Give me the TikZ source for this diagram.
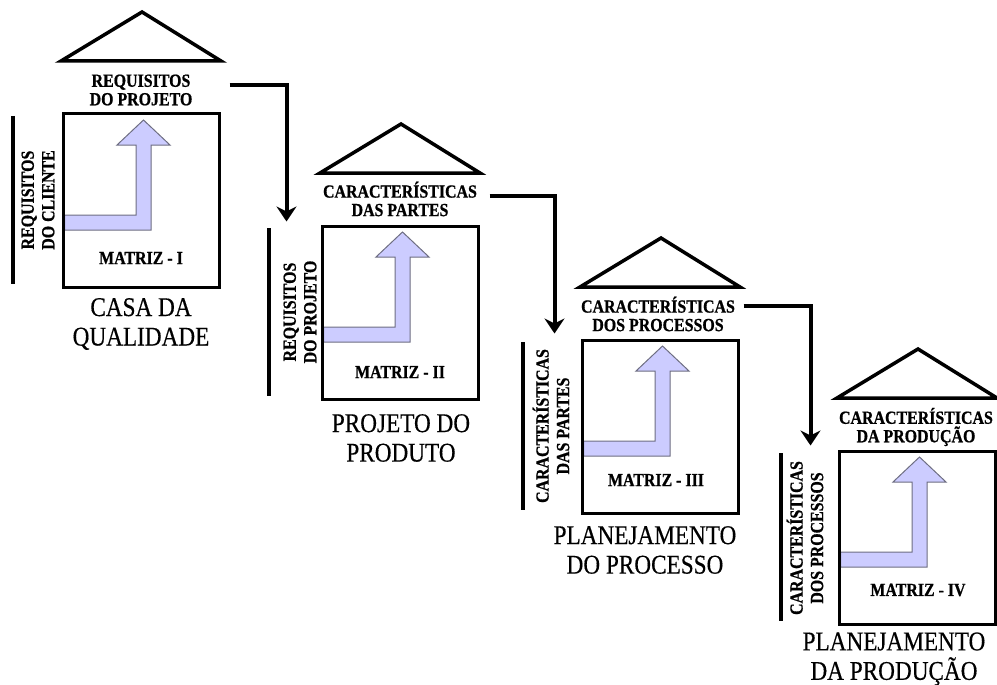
\documentclass[tikz,border=0pt]{standalone}
\usepackage{fontspec}
\setmainfont{Liberation Serif}
\newfontfamily\titlefont[FakeStretch=0.86, FakeBold=0.4]{Liberation Serif}
\newfontfamily\labelfont[FakeStretch=0.86, FakeBold=0.8]{Liberation Serif Bold}

\usetikzlibrary{arrows.meta,calc}

\tikzset{
  frame/.style={draw, line width=3pt, minimum width=156pt, minimum height=173pt, inner sep=0pt},
  roof/.style={line width=3.5pt, line join=miter},
  sidebar/.style={line width=4pt},
  lab/.style={font=\labelfont\fontsize{18.5}{18.5}\selectfont, align=center, inner sep=0pt},
  sidelab/.style={lab, rotate=90, font=\labelfont\fontsize{18.5}{20.5}\selectfont},
  stagetitle/.style={font=\titlefont\fontsize{27}{29.5}\selectfont, align=center, inner sep=0pt},
  flow/.style={fill={rgb,255:red,204;green,204;blue,255}, draw={rgb,255:red,110;green,110;blue,130}, line width=1pt, line join=miter},
  link/.style={line width=4pt, -{Stealth[length=15pt,width=20pt,inset=5pt]}},
}

% One QFD matrix: roof, bent flow arrow, frame and side bar.
% #1 id, #2 left edge, #3 top edge, #4 distance of the side bar from the frame
\newcommand\qfdframe[4]{%
  \draw[roof] (#2-2, #3-53) -- (#2+79, #3-102) -- (#2+158, #3-53) -- cycle;
  \draw[flow] (#2+1.5, #3+101) -- (#2+73, #3+101) -- (#2+73, #3+31)
     -- (#2+54, #3+31) -- (#2+80.5, #3+6) -- (#2+107, #3+31)
     -- (#2+88, #3+31) -- (#2+88, #3+116) -- (#2+1.5, #3+116) -- cycle;
  \node[frame] (b#1) at (#2+78, #3+86.5) {};
  \draw[sidebar] (#2-#4, #3+2) -- (#2-#4, #3+170);
}

\begin{document}
\begin{tikzpicture}[x=1pt, y=-1pt]
  \useasboundingbox (0,0) rectangle (997,685);

  \qfdframe{1}{63}{114}{50}
  \qfdframe{2}{322}{226}{53}
  \qfdframe{3}{582}{340}{59}
  \qfdframe{4}{839}{451}{58}

  % labels above each matrix
  \node[lab] (t1) at (141, 90)  {REQUISITOS\\DO PROJETO};
  \node[lab] (t2) at (400, 199) {CARACTERÍSTICAS\\DAS PARTES};
  \node[lab] (t3) at (658, 314) {CARACTERÍSTICAS\\DOS PROCESSOS};
  \node[lab] (t4) at (916, 427) {CARACTERÍSTICAS\\DA PRODUÇÃO};

  % labels on the left side
  \node[sidelab] (l1) at (38, 200)  {REQUISITOS\\DO CLIENTE};
  \node[sidelab] (l2) at (300, 312) {REQUISITOS\\DO PROJETO};
  \node[sidelab] (l3) at (551, 426) {CARACTERÍSTICAS\\DAS PARTES};
  \node[sidelab] (l4) at (805, 538) {CARACTERÍSTICAS\\DOS PROCESSOS};

  % matrix names
  \node[lab] (m1) at (141, 258) {MATRIZ - I};
  \node[lab] (m2) at (400, 372) {MATRIZ - II};
  \node[lab] (m3) at (656, 480) {MATRIZ - III};
  \node[lab] (m4) at (918, 590) {MATRIZ - IV};

  % stage titles
  \node[stagetitle] (s1) at (141, 324) {CASA DA\\QUALIDADE};
  \node[stagetitle] (s2) at (401, 438) {PROJETO DO\\PRODUTO};
  \node[stagetitle] (s3) at (645, 550) {PLANEJAMENTO\\DO PROCESSO};
  \node[stagetitle] (s4) at (894, 659) {PLANEJAMENTO\\DA PRODUÇÃO};

  % links from each matrix to the next one
  \coordinate (o1) at ($(b1.north east)+(9,-27)$);
  \coordinate (i2) at ($(b2.north west)+(-34,-3)$);
  \coordinate (o2) at ($(b2.north east)+(10,-29)$);
  \coordinate (i3) at ($(b3.north west)+(-26,-5)$);
  \coordinate (o3) at ($(b3.north east)+(4,-33)$);
  \coordinate (i4) at ($(b4.north west)+(-27,-4)$);
  \draw[link] (o1) -| (i2);
  \draw[link] (o2) -| (i3);
  \draw[link] (o3) -| (i4);
\end{tikzpicture}
\end{document}
